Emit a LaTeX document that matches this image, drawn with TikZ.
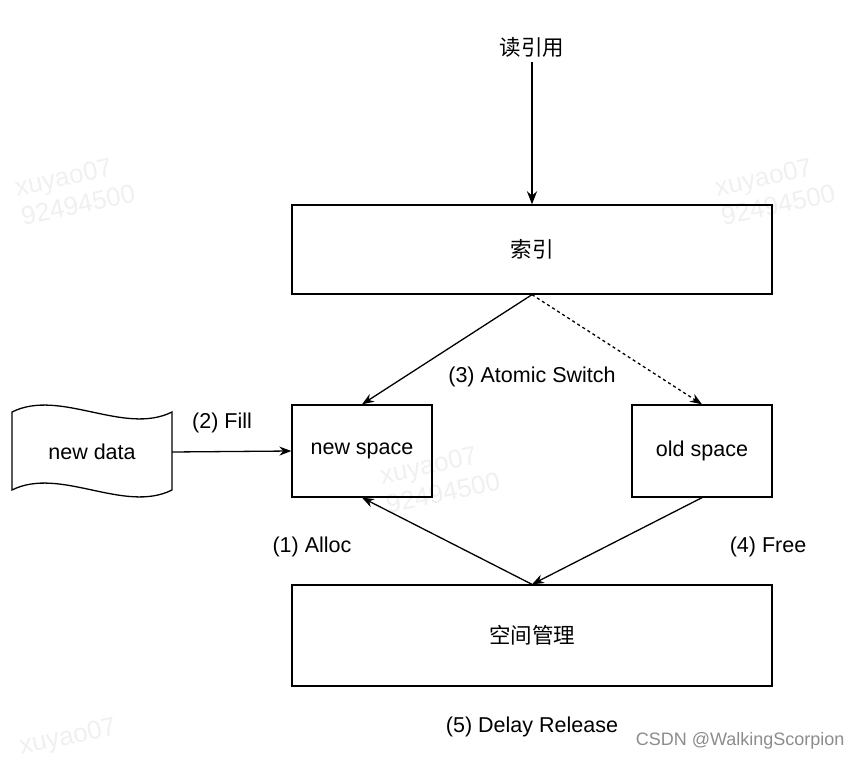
\documentclass[tikz,border=0pt]{standalone}
\usepackage{fontspec}
\setmainfont{Liberation Sans}
\newfontfamily\cjk{Noto Sans CJK SC}
\usetikzlibrary{arrows.meta}
\begin{document}
\begin{tikzpicture}[x=1pt,y=-1pt,
  box/.style={draw,line width=1.3pt,minimum width=#1,inner sep=0pt,font=\fontsize{21.5}{25}\selectfont},
  lbl/.style={font=\fontsize{21.5}{25}\selectfont},
  arr/.style={line width=1.3pt,-{Stealth[length=12pt,width=9pt]}},
  wm/.style={font=\fontsize{26}{30}\selectfont,text=black!6,rotate=12,align=left}]
\useasboundingbox (0,0) rectangle (862,762);
\node[wm] at (75,190) {xuyao07\\92494500};
\node[wm] at (775,190) {xuyao07\\92494500};
\node[wm] at (440,478) {xuyao07\\92494500};
\node[wm] at (68,738) {xuyao07};
\node[lbl] (src) at (532,47) {\cjk 读引用};
\node[box=480pt,minimum height=89pt] (idx) at (532,249.5) {\cjk 索引};
\node[box=140pt,minimum height=92pt] (ns) at (362,451) {new space};
\node[box=140pt,minimum height=92pt] (os) at (702,451) {old space};
\node[box=480pt,minimum height=101pt] (mgr) at (532,635.5) {\cjk 空间管理};
\draw[line width=1.3pt] (12,412) .. controls (60,388) and (124,436) .. (172,412) -- (172,490) .. controls (124,514) and (60,466) .. (12,490) -- cycle;
\node[lbl] (nd) at (92,452) {new data};
\coordinate (ndr) at (172,452);
\draw[arr] (ndr) -- (ns.west);
\node[lbl] at (222,423) {(2) Fill};
\draw[line width=2.5pt,-{Stealth[length=13pt,width=10pt]}] (src.south) ++(0,2) -- (idx.north);
\draw[arr] (idx.south) -- (ns.north);
\draw[arr,dashed] (idx.south) -- (os.north);
\node[lbl,fill=white,inner sep=1pt] at (532,377) {(3) Atomic Switch};
\draw[arr] (mgr.north) -- (ns.south);
\draw[arr] (os.south) -- (mgr.north);
\node[lbl] at (312,547) {(1) Alloc};
\node[lbl] at (768,547) {(4) Free};
\node[lbl] at (532,727) {(5) Delay Release};
\node[font=\fontsize{18}{22}\selectfont,text=black!45,anchor=east] at (848,741) {CSDN @WalkingScorpion};
\end{tikzpicture}
\end{document}
